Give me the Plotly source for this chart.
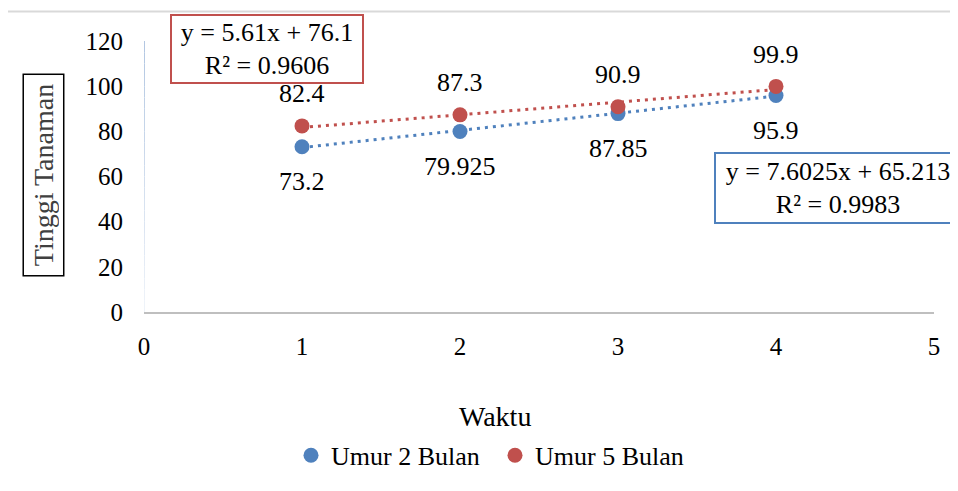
import numpy as np
import plotly.graph_objects as go

# ---- data ----
waktu = [1, 2, 3, 4]
umur2 = [73.2, 79.925, 87.85, 95.9]
umur5 = [82.4, 87.3, 90.9, 99.9]
series_names = ["Umur 2 Bulan", "Umur 5 Bulan"]
eq_umur2 = "y = 7.6025x + 65.213<br>R² = 0.9983"
eq_umur5 = "y = 5.61x + 76.1<br>R² = 0.9606"
x_ticks = [0, 1, 2, 3, 4, 5]
y_ticks = [0, 20, 40, 60, 80, 100, 120]

# ---- style ----
BLUE = "#4F81BD"
RED = "#C0504D"
FONT = "Liberation Serif"
OFF = 8  # page body margin
W, H = 958 - OFF, 491 - OFF
L, T = 144 - OFF, 41 - OFF
PW, PH = 790, 276
R, B = W - L - PW, H - T - PH


def px2x(px):
    return (px - OFF - L) / PW


def py2y(py):
    return (T + PH - (py - OFF)) / PH


def f(size, color="black"):
    return dict(family=FONT, size=size, color=color)


fig = go.Figure()

# trendlines (least squares fit, drawn over the data range)
for ys, col in [(umur2, BLUE), (umur5, RED)]:
    k, c = np.polyfit(waktu, ys, 1)
    xs = [waktu[0], waktu[-1]]
    fig.add_trace(go.Scatter(
        x=xs, y=[k * v + c for v in xs], mode="lines",
        line=dict(color=col, width=3, dash="3px,5px"),
        showlegend=False, hoverinfo="skip"))

for ys, col, name in [(umur2, BLUE, series_names[0]), (umur5, RED, series_names[1])]:
    fig.add_trace(go.Scatter(
        x=waktu, y=ys, mode="markers", name=name,
        marker=dict(color=col, size=15)))

annotations = []
# data labels
for xv, yv in zip(waktu, umur2):
    annotations.append(dict(x=xv, y=yv, xref="x", yref="y", text=str(yv),
                            showarrow=False, yshift=-35, font=f(26)))
for xv, yv in zip(waktu, umur5):
    annotations.append(dict(x=xv, y=yv, xref="x", yref="y", text=str(yv),
                            showarrow=False, yshift=32, font=f(26)))

# trendline equation boxes
annotations.append(dict(x=px2x(267), y=py2y(49.5), xref="paper", yref="paper",
                        text=eq_umur5, showarrow=False, xanchor="center", yanchor="middle",
                        align="center", width=186, height=62, borderpad=2,
                        bordercolor=RED, borderwidth=2, bgcolor="white", font=f(26)))
annotations.append(dict(x=px2x(714), y=py2y(191), xref="paper", yref="paper",
                        text=eq_umur2, showarrow=False, xanchor="left", yanchor="middle",
                        align="center", width=240, height=64, borderpad=2,
                        bordercolor=BLUE, borderwidth=2, bgcolor="white", font=f(26)))

# axis titles
annotations.append(dict(x=px2x(43), y=py2y(178), xref="paper", yref="paper",
                        text="Tinggi Tanaman", showarrow=False, textangle=-90,
                        xanchor="center", yanchor="middle", width=192, borderpad=4,
                        bordercolor="black", borderwidth=1.5, font=f(28, "#404040")))
annotations.append(dict(x=px2x(495), y=py2y(423), xref="paper", yref="paper",
                        text="Waktu", showarrow=False, xanchor="center", yanchor="middle",
                        font=f(28)))

shapes = []
# outer chart frame (only top/left visible)
shapes.append(dict(type="rect", xref="paper", yref="paper",
                   x0=px2x(7), x1=px2x(1010), y0=py2y(600), y1=py2y(11),
                   line=dict(color="#d9d9d9", width=2), fillcolor="rgba(0,0,0,0)", layer="below"))
# faded light-blue vertical axis line
n = 24
top_c = np.array([178, 199, 226])
bot_c = np.array([240, 244, 250])
for i in range(n):
    t0, t1 = i / n, (i + 1) / n
    c = (bot_c + (top_c - bot_c) * (t0 + t1) / 2).astype(int)
    shapes.append(dict(type="line", xref="x", yref="paper", x0=0, x1=0, y0=t0, y1=t1,
                       line=dict(color=f"rgb({c[0]},{c[1]},{c[2]})", width=2)))

fig.update_layout(
    width=W, height=H,
    margin=dict(l=L, r=R, t=T, b=B, pad=0),
    paper_bgcolor="white", plot_bgcolor="white",
    font=f(25),
    xaxis=dict(range=[0, 5], tickvals=x_ticks, showgrid=False, zeroline=False,
               showline=True, linecolor="#bfbfbf", linewidth=2, ticks="",
               ticklabelstandoff=11, tickfont=f(25)),
    yaxis=dict(range=[0, 120], tickvals=y_ticks, showgrid=False, zeroline=False,
               showline=False, ticks="", ticklabelstandoff=20, tickfont=f(25)),
    legend=dict(orientation="h", x=px2x(291), xanchor="left", y=py2y(463), yanchor="middle",
                font=f(26), bgcolor="rgba(0,0,0,0)", entrywidth=159),
    annotations=annotations,
    shapes=shapes,
    showlegend=True,
)

fig.write_html("out.html")
